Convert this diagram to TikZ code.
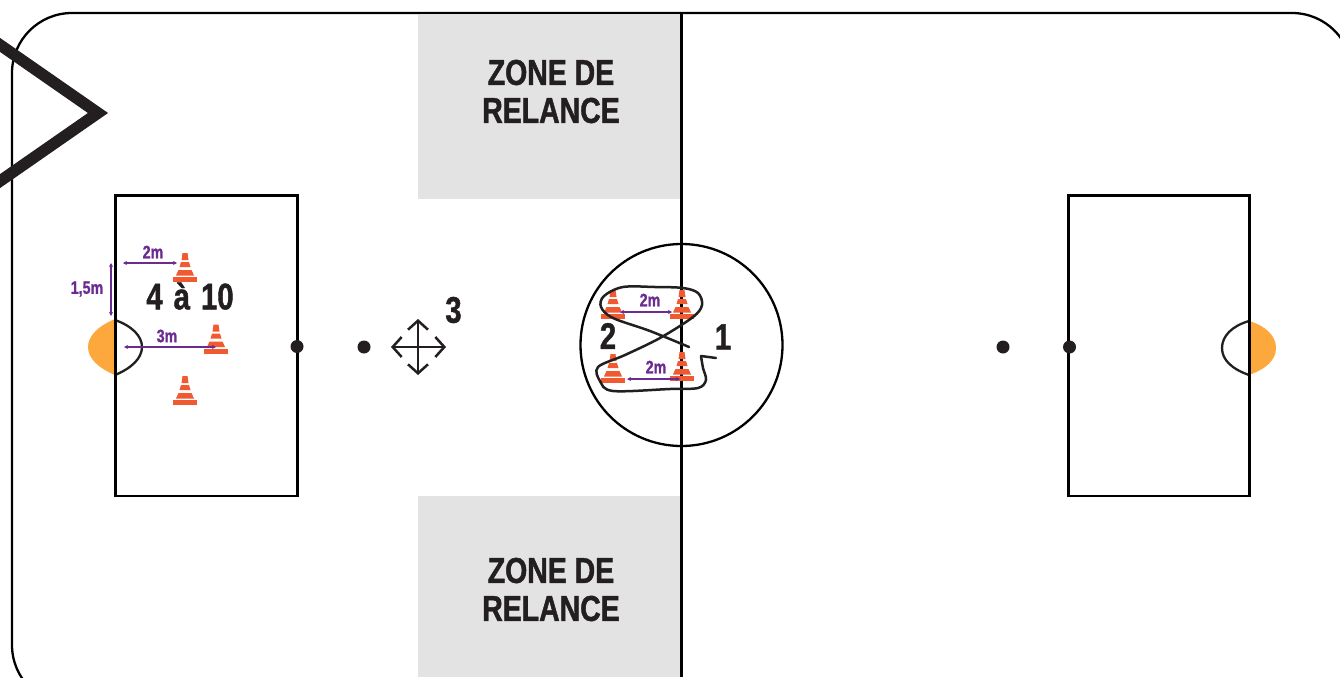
\documentclass[tikz,border=0pt]{standalone}
\usepackage{fontspec}
\setmainfont{Liberation Sans}
\newfontfamily\stencilfont[FakeStretch=0.79, BoldFeatures={FakeBold=1.2}]{Liberation Sans}
\usetikzlibrary{arrows.meta}
\definecolor{linedark}{HTML}{231F20}
\definecolor{zonegrey}{HTML}{E3E3E3}
\definecolor{goalorange}{HTML}{FCA83C}
\definecolor{conered}{HTML}{F15A30}
\definecolor{dimpurple}{HTML}{6A2C91}
\tikzset{
	fieldline/.style={draw=black, line width=2.3pt},
	spot/.style={fill=linedark},
	zonelabel/.style={font=\stencilfont\bfseries\fontsize{36}{38}\selectfont, text=linedark, align=center},
	numlabel/.style={font=\stencilfont\bfseries\fontsize{37}{38}\selectfont, text=linedark, inner sep=0pt},
	dimlabel/.style={font=\stencilfont\bfseries\fontsize{18}{20}\selectfont, text=dimpurple, inner sep=0pt},
	dimline/.style={dimpurple, line width=1.2pt, {Stealth[length=4pt,width=4pt]}-{Stealth[length=4pt,width=4pt]}},
	handline/.style={linedark, line width=2.5pt, line cap=round, line join=round},
	moveline/.style={linedark, line width=2.5pt, {Straight Barb[length=9pt,width=20pt]}-{Straight Barb[length=9pt,width=20pt]}},
}
\newcommand{\conemark}[2]{
	\fill[conered] (#1-12,#2) -- (#1+12,#2) -- (#1+12,#2-5) -- (#1-12,#2-5) -- cycle;
	\fill[conered] (#1-9,#2-6.5) -- (#1+9,#2-6.5) -- (#1+6.5,#2-12) -- (#1-6.5,#2-12) -- cycle;
	\fill[conered] (#1-5.5,#2-15) -- (#1+5.5,#2-15) -- (#1+4,#2-20) -- (#1-4,#2-20) -- cycle;
	\fill[conered] (#1-3.5,#2-22) -- (#1+3.5,#2-22) -- (#1+2.5,#2-29) -- (#1-2.5,#2-29) -- cycle;
}
\begin{document}
\begin{tikzpicture}[x=1pt, y=-1pt]
	\clip (0,0) rectangle (1340,677);
	\fill[white] (0,0) rectangle (1340,677);

	%%% Zones
	\fill[zonegrey] (418,15) rectangle (681,199);
	\fill[zonegrey] (418,496) rectangle (681,677);

	%%% Goal areas
	% Left
	\fill[goalorange] (115,319) .. controls (98,326) and (88,336) .. (88,347) .. controls (88,358) and (98,368) .. (115,375) -- cycle;
	\draw[fieldline, linedark] (115,320) .. controls (132,326) and (142,336) .. (142,347) .. controls (142,358) and (132,368) .. (115,375);
	% Right
	\fill[goalorange] (1249,321) .. controls (1266,326) and (1276,336) .. (1276,348) .. controls (1276,360) and (1266,369) .. (1249,375) -- cycle;
	\draw[fieldline, linedark] (1249,321) .. controls (1232,326) and (1222,336) .. (1222,348) .. controls (1222,360) and (1232,369) .. (1249,375);

	%%% Field
	\draw[fieldline, rounded corners=60pt] (12,13) rectangle (1352,705);
	\draw[fieldline] (681.5,13) -- (681.5,677);
	\draw[fieldline] (681.5,345) circle[radius=101];
	\draw[fieldline] (115.5,195.5) rectangle (297.5,496);
	\draw[fieldline] (1068.5,195.5) rectangle (1249.5,496);

	% Spots
	\fill[spot] (297,346.5) circle[radius=6.5];
	\fill[spot] (364,347) circle[radius=6.5];
	\fill[spot] (1003,347) circle[radius=6.5];
	\fill[spot] (1069.5,347) circle[radius=6.5];

	% Corner mark
	\draw[linedark, line width=11.5pt, miter limit=10] (-20,31) -- (98,113) -- (-20,195);

	%%% Cones
	\conemark{185}{282}
	\conemark{216}{353.5}
	\conemark{185}{405}
	\conemark{613}{319}
	\conemark{682}{319}
	\conemark{613}{383}
	\conemark{682}{381}

	%%% Movements
	\draw[handline] plot[smooth, tension=0.55] coordinates {(689,347) (650,331) (613,318) (601,307) (604,296) (623,287) (655,287) (683,288) (698,293) (702,305) (693,317) (660,338) (625,355) (598,367) (600,381) (613,391) (670,389) (698,388) (706,380) (703,368) (701,356)};
	\draw[handline] (701,356) -- (716,358);
	\draw[moveline] (418,319) -- (418,375);
	\draw[moveline] (391,347) -- (446,347);

	%%% Distances
	\draw[dimline] (123,263) -- (177,263);
	\draw[dimline] (111,263) -- (111,316);
	\draw[dimline] (124,347) -- (216,347);
	\draw[dimline] (620,312) -- (672,312);
	\draw[dimline] (627,379) -- (680,379);

	%%% Labels
	\node[dimlabel] (dim2left) at (153,252) {2m};
	\node[dimlabel] (dim15) at (87,289) {1,5m};
	\node[dimlabel] (dim3) at (167,336) {3m};
	\node[dimlabel] (dim2top) at (650,300) {2m};
	\node[dimlabel] (dim2bottom) at (656,367) {2m};

	\node[numlabel] (players) at (190,296) {4 \hspace{3pt}à \hspace{3pt}10};
	\node[numlabel] (step2) at (608,336) {2};
	\node[numlabel] (step1) at (723,337) {1};
	\node[numlabel] (step3) at (453.5,310) {3};

	\node[zonelabel] (zonetop) at (551,91.5) {ZONE DE\\RELANCE};
	\node[zonelabel] (zonebottom) at (551,589.5) {ZONE DE\\RELANCE};
\end{tikzpicture}
\end{document}
